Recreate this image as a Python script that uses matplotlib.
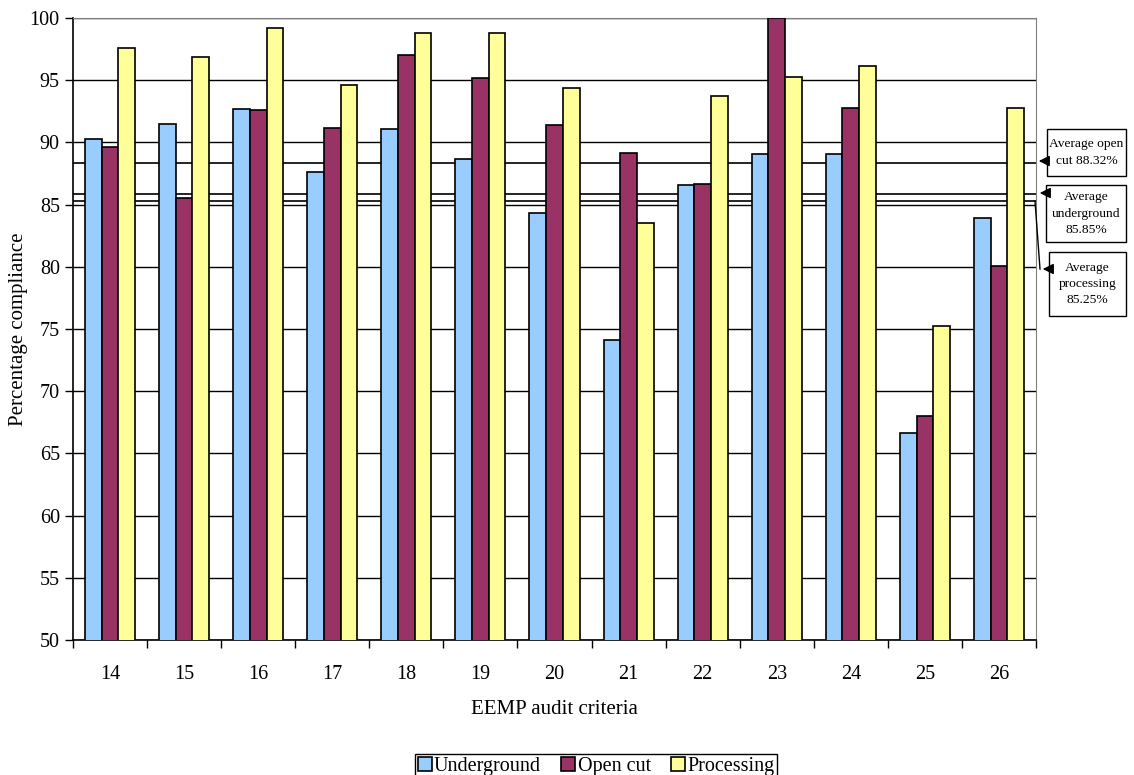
import numpy as np
import matplotlib
matplotlib.use('Agg')
import matplotlib.pyplot as plt
from matplotlib.patches import Rectangle, FancyArrowPatch
from matplotlib.lines import Line2D

# data
criteria = ['14', '15', '16', '17', '18', '19', '20', '21', '22', '23', '24', '25', '26']
underground = [90.3, 91.45, 92.7, 87.6, 91.1, 88.7, 84.3, 74.15, 86.55, 89.07, 89.07, 66.6, 83.9]
open_cut = [89.63, 85.5, 92.6, 91.18, 97.03, 95.2, 91.4, 89.17, 86.66, 100.0, 92.77, 68.03, 80.1]
processing = [97.6, 96.84, 99.2, 94.6, 98.8, 98.8, 94.35, 83.55, 93.76, 95.28, 96.17, 75.27, 92.8]
avg_open = 88.32
avg_under = 85.85
avg_proc = 85.25

plt.rcParams['font.family'] = ['Liberation Serif', 'DejaVu Serif']

W, H = 1134, 775
fig = plt.figure(figsize=(W / 100, H / 100), dpi=100)
ax = fig.add_axes([73 / W, 1 - 640 / H, (1036 - 73) / W, (640 - 18) / H])

x = np.arange(len(criteria))
w = 0.225
ax.bar(x - w, underground, w, color='#99CCFF', edgecolor='black', linewidth=1.2, label='Underground', zorder=3)
ax.bar(x, open_cut, w, color='#993366', edgecolor='black', linewidth=1.2, label='Open cut', zorder=3)
ax.bar(x + w, processing, w, color='#FFFF99', edgecolor='black', linewidth=1.2, label='Processing', zorder=3)

ax.set_xlim(-0.5, len(criteria) - 0.5)
ax.set_ylim(50, 100)
ax.set_yticks(np.arange(50, 101, 5))
ax.yaxis.grid(True, color='black', linewidth=1.0, zorder=0)
ax.set_axisbelow(True)

# average lines
for v in [avg_open, avg_under, avg_proc]:
    ax.axhline(v, color='black', linewidth=1.2, zorder=2)

# x ticks between groups, labels at centres
ax.set_xticks(np.arange(-0.5, len(criteria), 1.0))
ax.set_xticklabels([])
ax.set_xticks(x, minor=True)
ax.set_xticklabels(criteria, minor=True)
ax.tick_params(axis='x', which='minor', length=0, labelsize=14.5, pad=18)
ax.tick_params(axis='x', which='major', length=6, direction='out', width=1)
ax.tick_params(axis='y', length=6, direction='out', labelsize=14.5, width=1)

for side in ['top', 'right']:
    ax.spines[side].set_color('#808080')
for side in ['left', 'bottom']:
    ax.spines[side].set_color('black')
    ax.spines[side].set_linewidth(1.2)

ax.set_ylabel('Percentage compliance', fontsize=15)
ax.yaxis.set_label_coords(-0.047, 0.5)
ax.set_xlabel('EEMP audit criteria', fontsize=15)
ax.xaxis.set_label_coords(0.5, -0.097)


def fx(px):
    return px / W


def fy(py):
    return 1 - py / H


# annotation boxes on the right
boxes = [
    ((1047, 129, 1126, 176), 'Average open\ncut 88.32%', (1047, 161), (1036, 161)),
    ((1046, 185, 1126, 242), 'Average\nunderground\n85.85%', (1046, 193), (1037, 193)),
    ((1049, 252, 1126, 316), 'Average\nprocessing\n85.25%', (1049, 269), (1040, 269)),
]
for (x0, y0, x1, y1), txt, start, end in boxes:
    fig.add_artist(Rectangle((fx(x0), fy(y1)), fx(x1 - x0), (y1 - y0) / H,
                             transform=fig.transFigure, facecolor='white',
                             edgecolor='black', linewidth=1.0))
    fig.text(fx((x0 + x1) / 2), fy((y0 + y1) / 2), txt, ha='center', va='center',
             fontsize=9.7, linespacing=1.45)
    fig.add_artist(FancyArrowPatch((fx(start[0]), fy(start[1])), (fx(end[0]), fy(end[1])),
                                   transform=fig.transFigure, arrowstyle='-|>',
                                   mutation_scale=16, color='black', linewidth=1.0))
fig.add_artist(Line2D([fx(1035), fx(1040)], [fy(201), fy(269)], transform=fig.transFigure,
                      color='black', linewidth=1.0))

leg = fig.legend(loc='lower right', bbox_to_anchor=(777 / W, -0.004), ncol=3, fontsize=14.5,
                 frameon=True, fancybox=False, edgecolor='black', framealpha=1,
                 handlelength=0.7, handleheight=0.7, handletextpad=0.12, columnspacing=1.0,
                 borderpad=0.12, borderaxespad=0)
leg.get_frame().set_linewidth(1.0)

fig.savefig('out.png', dpi=100)
